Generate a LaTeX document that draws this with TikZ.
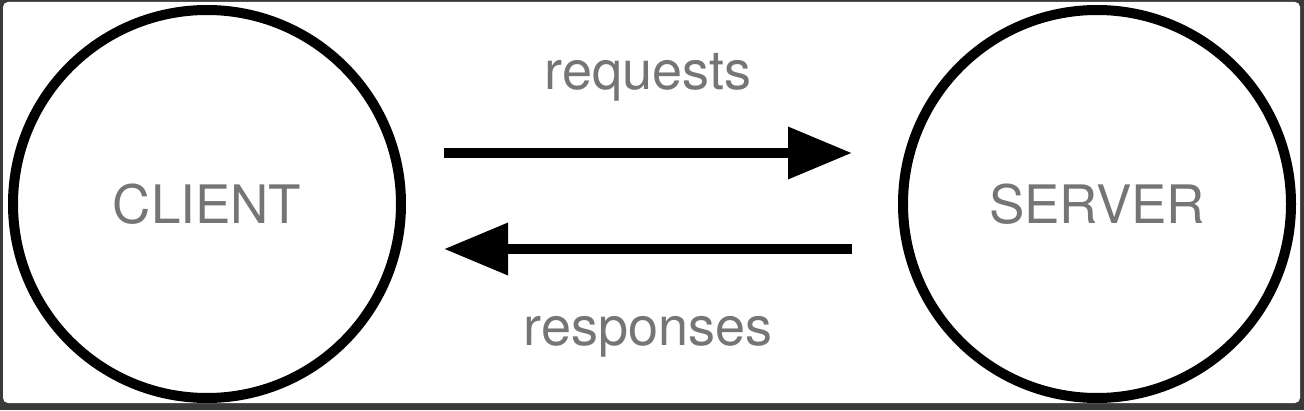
\documentclass[tikz,border=0pt]{standalone}
\usepackage{fontspec}
\setmainfont{TeX Gyre Heros}
\usetikzlibrary{arrows.meta}
\definecolor{framegray}{HTML}{3A3A3A}
\definecolor{textgray}{HTML}{757575}
\tikzset{
  peer/.style={circle, draw=black, line width=10pt, minimum size=388pt, inner sep=0pt,
    text=textgray, font=\fontsize{53}{57}\selectfont},
  msg/.style={line width=10pt, -{Triangle[length=64pt,width=50pt]}},
  lbl/.style={text=textgray, font=\fontsize{54}{58}\selectfont, inner sep=0pt, anchor=base}
}
\begin{document}
\begin{tikzpicture}[x=1pt,y=1pt]
  \useasboundingbox (0,0) rectangle (1304,410);
  \fill[framegray] (0,0) rectangle (1304,410);
  \fill[white, rounded corners=5pt] (3,7) rectangle (1300,408);
  \node[peer] (client) at (207,206) {CLIENT};
  \node[peer] (server) at (1097,206) {SERVER};
  \coordinate (reqStart) at (444,257);
  \coordinate (reqEnd) at (852,257);
  \coordinate (respStart) at (852,161);
  \coordinate (respEnd) at (444,161);
  \draw[msg] (reqStart) -- (reqEnd);
  \draw[msg] (respStart) -- (respEnd);
  \node[lbl] (reqlabel) at (648,320) {requests};
  \node[lbl] (resplabel) at (648,65) {responses};
\end{tikzpicture}
\end{document}
